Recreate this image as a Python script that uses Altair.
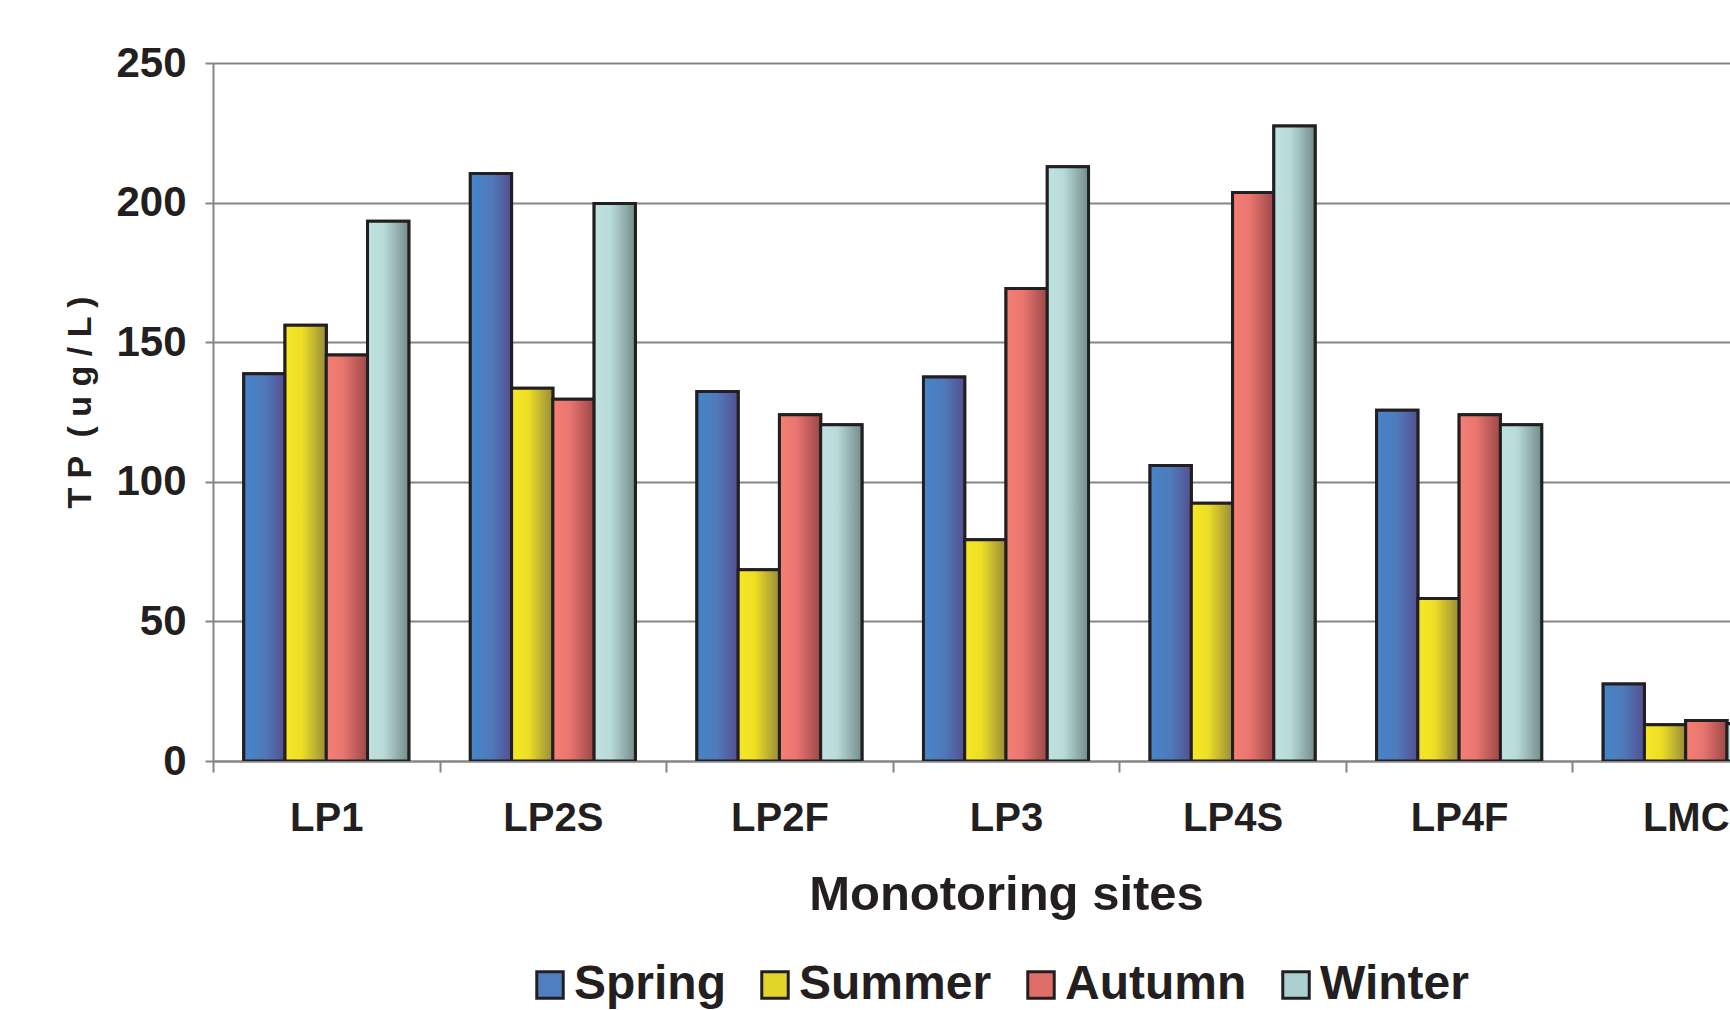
import altair as alt
import pandas as pd

sites = ["LP1", "LP2S", "LP2F", "LP3", "LP4S", "LP4F", "LMC"]
seasons = ["Spring", "Summer", "Autumn", "Winter"]
spring = [138.7, 210.4, 132.3, 137.5, 105.8, 125.6, 27.6]
summer = [156.1, 133.5, 68.5, 79.2, 92.3, 58.2, 13.0]
autumn = [145.4, 129.6, 124.0, 169.2, 203.6, 124.0, 14.5]
winter = [193.3, 199.7, 120.4, 212.8, 227.4, 120.4, 13.3]

flat_colors = ["#4f7fc0", "#e2d52a", "#e06e68", "#acd0cf"]
grad_stops = {
    "Spring": [("#4585c9", 0), ("#4f7abb", 0.5), ("#544f8f", 1)],
    "Summer": [("#f5e726", 0), ("#eedf25", 0.4), ("#988c3a", 1)],
    "Autumn": [("#f47f74", 0), ("#ea7670", 0.4), ("#9c4848", 1)],
    "Winter": [("#c0e2e1", 0), ("#b8dad9", 0.4), ("#738c8a", 1)],
}

rows = []
for s, vals in zip(seasons, [spring, summer, autumn, winter]):
    for site, v in zip(sites, vals):
        rows.append({"site": site, "season": s, "value": v})
df = pd.DataFrame(rows)

FONT = "Liberation Sans"
TXT = "#231f20"
GRAY = "#858585"
FULL_W = 1586   # width of the complete plot (partly outside the picture)
VIEW_W = 1517   # visible plot width

x_enc = alt.X(
    "site:N", sort=sites,
    scale=alt.Scale(paddingInner=0, paddingOuter=0, range=[0, FULL_W]),
    axis=alt.Axis(
        title="Monotoring sites", labelAngle=0, tickBand="extent",
        tickSize=11, tickColor=GRAY, tickWidth=2,
        domainColor=GRAY, domainWidth=2,
        labelFont=FONT, labelFontSize=40, labelFontWeight="bold", labelColor=TXT,
        labelPadding=26,
        titleFont=FONT, titleFontSize=49, titleFontWeight="bold", titleColor=TXT,
        titlePadding=32, titleX=FULL_W / 2, titleAlign="center",
    ),
)
xo_enc = alt.XOffset(
    "season:N", sort=seasons,
    scale=alt.Scale(domain=seasons, paddingInner=0, paddingOuter=0.745),
)
y_enc = alt.Y(
    "value:Q",
    scale=alt.Scale(domain=[0, 250], nice=False),
    axis=alt.Axis(
        values=[0, 50, 100, 150, 200, 250], grid=True,
        gridColor=GRAY, gridWidth=2,
        domainColor=GRAY, domainWidth=2,
        tickColor=GRAY, tickWidth=2, tickSize=8,
        labelFont=FONT, labelFontSize=42, labelFontWeight="bold", labelColor=TXT,
        labelPadding=19,
        title="T P \u00a0( u g / L )",
        titleFont=FONT, titleFontSize=34, titleFontWeight="bold", titleColor=TXT,
        titlePadding=18, titleY=339,
    ),
)

base = alt.Chart(df).mark_bar(stroke=TXT, strokeWidth=3, clip=True).encode(
    x=x_enc, xOffset=xo_enc, y=y_enc,
    color=alt.Color(
        "season:N",
        scale=alt.Scale(domain=seasons, range=flat_colors),
        legend=alt.Legend(
            title=None, orient="none", legendX=313, legendY=898,
            direction="horizontal", columns=4,
            symbolType="square", symbolSize=700,
            symbolStrokeColor=TXT, symbolStrokeWidth=3,
            labelFont=FONT, labelFontSize=48, labelFontWeight="bold", labelColor=TXT,
            labelOffset=0, columnPadding=25, labelLimit=400,
        ),
    ),
)

overlays = []
for s in seasons:
    grad = alt.LinearGradient(
        gradient="linear",
        stops=[alt.GradientStop(color=c, offset=o) for c, o in grad_stops[s]],
        x1=0, x2=1, y1=0, y2=0,
    )
    layer = alt.Chart(df).transform_filter(alt.datum.season == s).mark_bar(
        fill=grad, stroke=TXT, strokeWidth=3, clip=True
    ).encode(x=x_enc, xOffset=xo_enc, y=y_enc)
    overlays.append(layer)

chart = alt.layer(base, *overlays).properties(
    width=VIEW_W, height=698,
    autosize=alt.AutoSizeParams(type="none"),
    padding={"left": 213, "top": 63, "right": 0, "bottom": 249},
).configure_view(stroke=None)

chart.save("out.html", embed_options={"renderer": "svg", "actions": False})
